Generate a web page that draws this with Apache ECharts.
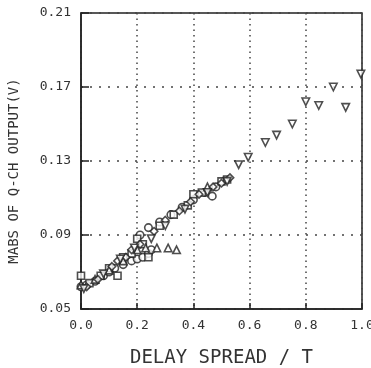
<!DOCTYPE html>
<html><head><meta charset="utf-8">
<script src="https://cdn.jsdelivr.net/npm/echarts@6/dist/echarts.min.js"></script>
<style>html,body{margin:0;padding:0;background:#fff}#c{width:371px;height:368px}</style>
</head><body><div id="c"></div>
<script>
const xTicks = [0.0, 0.2, 0.4, 0.6, 0.8, 1.0];
const yTicks = [0.05, 0.09, 0.13, 0.17, 0.21];
const xTitle = 'DELAY SPREAD / T';
const yTitle = 'MABS OF Q-CH OUTPUT(V)';

const circles = [[0,0.062],[0.02,0.063],[0.05,0.065],[0.08,0.068],[0.1,0.070],[0.12,0.072],[0.15,0.074],[0.18,0.076],[0.2,0.077],[0.22,0.078],[0.24,0.080],[0.25,0.082],[0.21,0.090],[0.24,0.094],[0.28,0.097],[0.32,0.101],[0.36,0.105],[0.4,0.109],[0.44,0.113],[0.467,0.111],[0.48,0.116]];
const squares = [[0,0.068],[0.03,0.064],[0.07,0.068],[0.1,0.072],[0.13,0.068],[0.15,0.078],[0.18,0.080],[0.2,0.088],[0.22,0.085],[0.24,0.078],[0.28,0.095],[0.33,0.101],[0.38,0.106],[0.4,0.112],[0.43,0.113],[0.5,0.119],[0.52,0.120]];
const trianglesUp = [[0.0,0.063],[0.05,0.066],[0.1,0.071],[0.15,0.076],[0.2,0.082],[0.23,0.083],[0.27,0.083],[0.31,0.083],[0.34,0.082],[0.45,0.116]];
const diamonds = [[0.02,0.062],[0.06,0.066],[0.11,0.073],[0.13,0.076],[0.16,0.078],[0.18,0.082],[0.21,0.085],[0.26,0.092],[0.3,0.098],[0.35,0.103],[0.39,0.108],[0.42,0.112],[0.47,0.116],[0.5,0.118],[0.53,0.121]];
const trianglesDown = [[0.01,0.061],[0.08,0.069],[0.14,0.077],[0.19,0.083],[0.25,0.088],[0.3,0.095],[0.37,0.104],[0.45,0.113],[0.52,0.119],[0.561,0.128],[0.595,0.132],[0.656,0.140],[0.696,0.144],[0.752,0.150],[0.8,0.162],[0.846,0.160],[0.898,0.170],[0.942,0.159],[0.996,0.177]];

const font = 'DejaVu Sans Mono';
const ink = '#333';
function sc(name, data, symbol, rot) {
  return {
    name, type: 'scatter', data, symbol, symbolSize: symbol === 'rect' ? 7 : 7.5,
    symbolRotate: rot || 0, clip: false,
    itemStyle: { color: '#fff', borderColor: '#222', borderWidth: 1.6 }
  };
}
const chart = echarts.init(document.getElementById('c'), null, { renderer: 'canvas' });
chart.setOption({
  animation: false,
  backgroundColor: '#fff',
  grid: { left: 81, right: 9, top: 13, bottom: 59, show: true, borderColor: '#222', borderWidth: 1.5, containLabel: false, outerBoundsMode: 'none' },
  xAxis: {
    type: 'value', min: xTicks[0], max: xTicks[xTicks.length - 1], interval: 0.2,
    name: xTitle, nameLocation: 'middle', nameGap: 40,
    nameTextStyle: { fontFamily: font, fontSize: 19, color: ink },
    axisLine: { lineStyle: { color: '#222', width: 1.5 } },
    axisTick: { inside: true, length: 6, lineStyle: { color: '#222', width: 1.5 } },
    axisLabel: { fontFamily: font, fontSize: 13, color: ink, margin: 10, formatter: v => v.toFixed(1) },
    splitLine: { show: true, lineStyle: { color: '#444', width: 1.5, type: [1.5, 4] } }
  },
  yAxis: {
    type: 'value', min: yTicks[0], max: yTicks[yTicks.length - 1], interval: 0.04,
    name: yTitle, nameLocation: 'middle', nameGap: 60,
    nameTextStyle: { fontFamily: font, fontSize: 14, color: ink, padding: [0, 20, 0, 0] },
    axisLine: { lineStyle: { color: '#222', width: 1.5 } },
    axisTick: { inside: true, length: 8, lineStyle: { color: '#222', width: 1.5 } },
    axisLabel: { fontFamily: font, fontSize: 13, color: ink, margin: 10, formatter: v => v.toFixed(2) },
    splitLine: { show: true, lineStyle: { color: '#444', width: 1.5, type: [2, 7] } }
  },
  series: [
    sc('circles', circles, 'circle'),
    sc('squares', squares, 'rect'),
    sc('trianglesUp', trianglesUp, 'triangle'),
    sc('diamonds', diamonds, 'diamond'),
    sc('trianglesDown', trianglesDown, 'triangle', 180)
  ]
});
</script></body></html>
